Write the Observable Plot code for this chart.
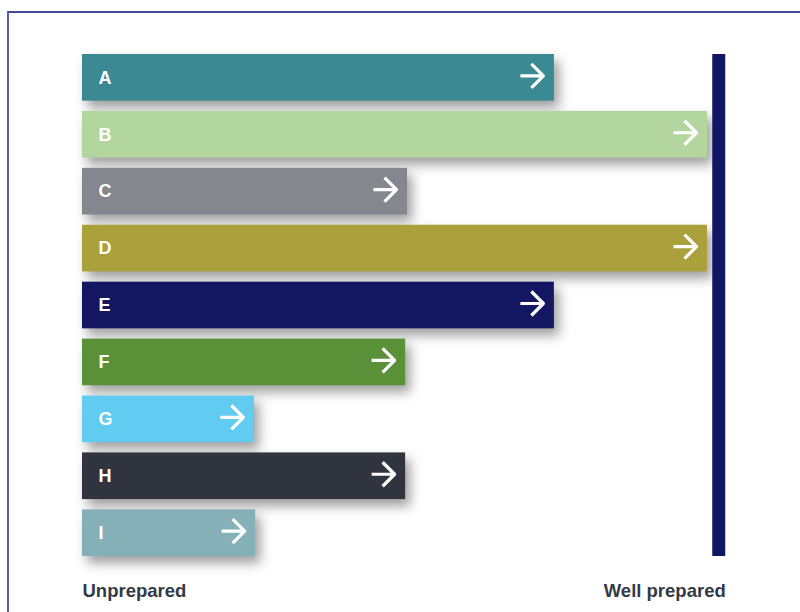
<!DOCTYPE html>
<html>
<head>
<meta charset="utf-8">
<script src="https://cdn.jsdelivr.net/npm/d3@7"></script>
<script src="https://cdn.jsdelivr.net/npm/@observablehq/plot@0.6"></script>
<style>
  html, body { margin: 0; padding: 0; background: #fff; }
  #wrap { position: relative; width: 800px; height: 612px; overflow: hidden; }
  #frame { position: absolute; left: 7px; top: 11px; width: 900px; height: 700px;
           border-top: 2px solid #454a98; border-left: 2px solid #5a5ea3; box-sizing: border-box; }
  #chart { position: absolute; left: 0; top: 0; }
</style>
</head>
<body>
<div id="wrap"><div id="frame"></div><div id="chart"></div></div>
<script>
const categories = ["A", "B", "C", "D", "E", "F", "G", "H", "I"];
const values = [75.5, 100, 52, 100, 75.5, 51.7, 27.5, 51.7, 27.7];
const colors = ["#3b8992", "#b3d69f", "#85878f", "#aaa13d", "#131762", "#5a9138", "#62cbf2", "#30343f", "#86b0b7"];
const targetValue = 101.8;
const endLabels = ["Unprepared", "Well prepared"];

const data = categories.map((c, i) => ({cat: c, value: values[i], color: colors[i]}));

const arrowShape = {
  draw(context, l, r) {
    context.moveTo(0, 0);
    context.lineTo(0, -l);
    context.moveTo(-12, -l + 12);
    context.lineTo(0, -l);
    context.lineTo(12, -l + 12);
  }
};

const plot = Plot.plot({
  width: 800,
  height: 612,
  marginLeft: 82,
  marginRight: 61.75,
  marginTop: 54,
  marginBottom: 56,
  x: {domain: [0, 105], axis: null},
  y: {domain: categories, axis: null, paddingInner: 0.18, paddingOuter: 0, round: false},
  style: {background: "transparent", fontFamily: "'Liberation Sans', Arial, sans-serif"},
  marks: [
    Plot.barX(data, {x: "value", y: "cat", fill: "color"}),
    Plot.text(data, {x: 0, y: "cat", text: "cat", textAnchor: "start", dx: 16, fill: "white",
      fontWeight: "bold", fontSize: 18}),
    Plot.vector(data, {x: "value", y: "cat", dx: -11, dy: -2, rotate: 90, length: 23, anchor: "end",
      shape: arrowShape, stroke: "white", strokeWidth: 3.2, strokeLinecap: "butt"}),
    Plot.ruleX([targetValue], {x: d => d, stroke: "#101663", strokeWidth: 13}),
    Plot.text([endLabels[0]], {x: 0, frameAnchor: "bottom", text: d => d, textAnchor: "start",
      lineAnchor: "middle", dy: 35, fill: "#343a44", fontWeight: "bold", fontSize: 18.5}),
    Plot.text([endLabels[1]], {x: targetValue, frameAnchor: "bottom", text: d => d, textAnchor: "end",
      lineAnchor: "middle", dx: 7, dy: 35, fill: "#343a44", fontWeight: "bold", fontSize: 18.5})
  ]
});

document.getElementById("chart").appendChild(plot);
const bars = plot.querySelector('g[aria-label="bar"]');
if (bars) bars.style.filter = "drop-shadow(5px 7px 6px rgba(0,0,0,0.38))";
</script>
</body>
</html>
